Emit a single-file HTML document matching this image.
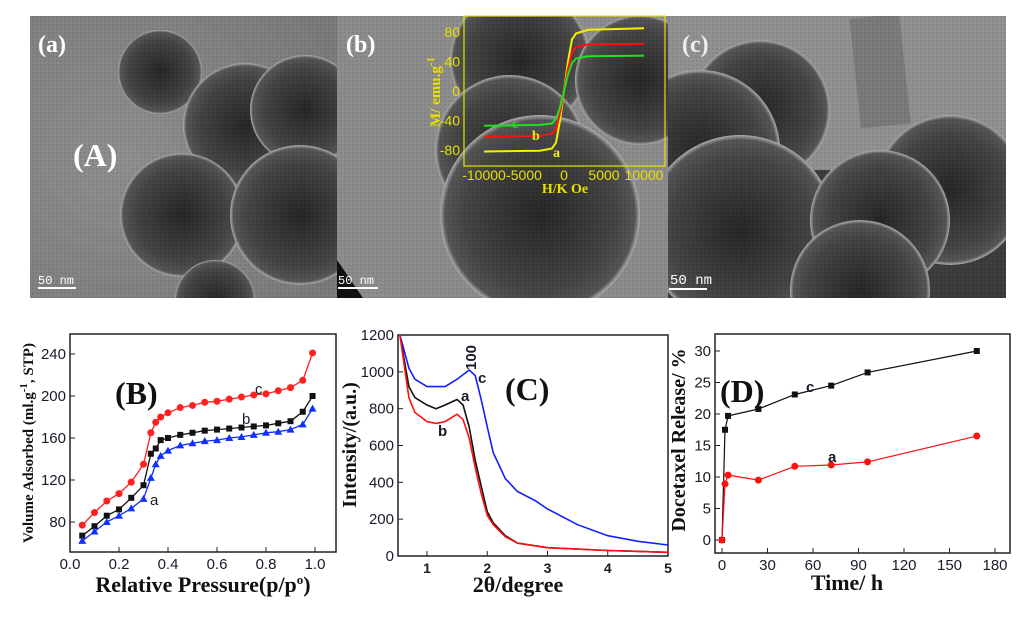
<!DOCTYPE html>
<html><head><meta charset="utf-8"><style>
html,body{margin:0;padding:0;background:#fff;width:1024px;height:618px;overflow:hidden}
svg{display:block}
.tk{font-family:"Liberation Sans",sans-serif;font-size:15px;fill:#1a1a2a}
.ttl{font-family:"Liberation Serif",serif;font-weight:bold;fill:#111}
</style></head><body>
<svg id="fig" width="1024" height="618" viewBox="0 0 1024 618">
<defs>
<radialGradient id="sph" cx="50%" cy="50%" r="50%">
<stop offset="0" stop-color="#262626"/><stop offset="0.75" stop-color="#444"/><stop offset="0.95" stop-color="#555"/><stop offset="1" stop-color="#b0b0b0"/>
</radialGradient>
<radialGradient id="bgA" cx="30%" cy="50%" r="80%"><stop offset="0" stop-color="#8e8e8e"/><stop offset="1" stop-color="#7a7a7a"/></radialGradient>
<pattern id="tex" width="4" height="4" patternUnits="userSpaceOnUse"><rect width="4" height="4" fill="none"/><circle cx="1" cy="1" r="0.9" fill="#000" opacity="0.35"/><circle cx="3" cy="3" r="0.7" fill="#fff" opacity="0.12"/></pattern>
<clipPath id="cA"><rect x="30" y="16" width="307" height="282"/></clipPath>
<clipPath id="cB"><rect x="337" y="16" width="331" height="282"/></clipPath>
<clipPath id="cC"><rect x="668" y="16" width="338" height="282"/></clipPath>
</defs>

<!-- TEM panel a -->
<g clip-path="url(#cA)">
<rect x="30" y="16" width="307" height="282" fill="url(#bgA)"/>
<circle cx="160" cy="72" r="42" fill="url(#sph)"/>
<circle cx="245" cy="125" r="62" fill="url(#sph)"/>
<circle cx="305" cy="110" r="55" fill="url(#sph)"/>
<circle cx="182" cy="215" r="62" fill="url(#sph)"/>
<circle cx="300" cy="215" r="70" fill="url(#sph)"/>
<circle cx="215" cy="300" r="40" fill="url(#sph)"/>
<rect x="30" y="16" width="307" height="282" fill="url(#tex)" opacity="0.3"/>
<text x="38" y="52" class="ttl" font-size="24" style="fill:#fff">(a)</text>
<text x="73" y="166" class="ttl" font-size="32" style="fill:#fff">(A)</text>
<text x="38" y="284" font-family="Liberation Mono,monospace" font-size="12" fill="#fff">50 nm</text>
<rect x="38" y="287" width="38" height="2" fill="#fff"/>
</g>

<!-- TEM panel b -->
<g clip-path="url(#cB)">
<rect x="337" y="16" width="331" height="282" fill="#8c8c8c"/>
<circle cx="520" cy="60" r="70" fill="url(#sph)"/>
<circle cx="640" cy="80" r="65" fill="url(#sph)"/>
<circle cx="510" cy="150" r="75" fill="url(#sph)"/>
<circle cx="540" cy="215" r="100" fill="url(#sph)"/>
<rect x="337" y="16" width="331" height="282" fill="url(#tex)" opacity="0.3"/>
<polygon points="337,260 363,298 337,298" fill="#111"/>
<text x="346" y="52" class="ttl" font-size="24" style="fill:#fff">(b)</text>
<text x="338" y="284" font-family="Liberation Mono,monospace" font-size="12" fill="#fff">50 nm</text>
<rect x="338" y="287" width="40" height="2" fill="#fff"/>
</g>

<!-- TEM panel c -->
<g clip-path="url(#cC)">
<rect x="668" y="16" width="338" height="282" fill="#909090"/>
<rect x="855" y="16" width="50" height="110" fill="#7a7a7a" transform="rotate(-6 880 70)"/>
<rect x="668" y="170" width="338" height="128" fill="#3c3c3c"/>
<circle cx="760" cy="110" r="70" fill="url(#sph)"/>
<circle cx="700" cy="150" r="80" fill="url(#sph)"/>
<circle cx="740" cy="230" r="95" fill="url(#sph)"/>
<circle cx="950" cy="190" r="75" fill="url(#sph)"/>
<circle cx="880" cy="220" r="70" fill="url(#sph)"/>
<circle cx="860" cy="290" r="70" fill="url(#sph)"/>
<rect x="668" y="16" width="338" height="282" fill="url(#tex)" opacity="0.3"/>
<text x="682" y="52" class="ttl" font-size="24" style="fill:#eee">(c)</text>
<text x="670" y="284" font-family="Liberation Mono,monospace" font-size="14" fill="#fff">50 nm</text>
<rect x="669" y="288" width="38" height="2" fill="#fff"/>
</g>

<!-- inset magnetic -->
<g id="inset">
<rect x="464" y="16" width="201" height="150" fill="none" stroke="#e8e000" stroke-width="1.2"/>
</g>

<g id="chartB"></g>
<g id="chartC"></g>
<g id="chartD"></g>
</svg>
<script>
// ---- inset data ----
const magH = [-10000,-3000,-1500,-1000,-500,0,500,1000,1500,3000,10000];
const magA = [-82,-81,-78,-70,-40,0,40,70,78,83,85];
const magB = [-62,-61,-58,-52,-30,0,30,52,60,63,64];
const magC = [-47,-46,-44,-38,-22,0,22,38,44,47,48];
const magTicksY = [80,40,0,-40,-80];
const magTicksX = [-10000,-5000,0,5000,10000];
// ---- B data ----
const pP = [0.05,0.1,0.15,0.2,0.25,0.3,0.33,0.35,0.37,0.4,0.45,0.5,0.55,0.6,0.65,0.7,0.75,0.8,0.85,0.9,0.95,0.99];
const isoC = [77,89,100,107,118,135,165,175,180,184,189,191,194,195,197,199,201,202,205,208,215,241];
const isoB = [67,76,86,92,103,115,145,150,158,160,163,165,167,168,169,170,171,172,174,176,185,200];
const isoA = [62,71,80,86,93,102,122,135,143,148,153,155,157,158,160,161,163,165,166,168,173,188];
const bTicksX = [0.0,0.2,0.4,0.6,0.8,1.0];
const bTicksY = [80,120,160,200,240];
// ---- C data ----
const xrdXC = [0.55,0.7,0.8,1.0,1.3,1.5,1.7,1.8,1.9,2.0,2.1,2.3,2.5,2.8,3.0,3.5,4.0,4.5,5.0];
const xrdC = [1200,1020,960,920,920,960,1010,980,850,700,560,420,350,300,255,170,110,80,60];
const xrdXA = [0.55,0.7,0.8,1.0,1.15,1.3,1.5,1.6,1.7,1.8,1.9,2.0,2.1,2.3,2.5,3.0,4.0,5.0];
const xrdA = [1200,920,860,820,800,820,850,820,700,520,380,240,180,110,70,45,30,20];
const xrdB = [1200,860,780,730,720,730,770,740,640,480,340,220,170,105,70,45,30,20];
const cTicksX = [1,2,3,4,5];
const cTicksY = [0,200,400,600,800,1000,1200];
// ---- D data ----
const relT = [0,2,4,24,48,72,96,168];
const relC = [0,17.5,19.7,20.8,23.1,24.5,26.6,30];
const relA = [0,8.9,10.3,9.5,11.7,11.9,12.4,16.5];
const dTicksX = [0,30,60,90,120,150,180];
const dTicksY = [0,5,10,15,20,25,30];

const NS='http://www.w3.org/2000/svg';
function mk(parent,tag,attrs,text){const e=document.createElementNS(NS,tag);for(const k in attrs)e.setAttribute(k,attrs[k]);if(text!==undefined)e.textContent=text;parent.appendChild(e);return e;}
function lin(d0,d1,r0,r1){return v=>r0+(v-d0)*(r1-r0)/(d1-d0);}
function path(xs,ys,sx,sy){return xs.map((x,i)=>(i?'L':'M')+sx(x).toFixed(1)+','+sy(ys[i]).toFixed(1)).join('');}

// inset
(function(){
const g=document.getElementById('inset');
const sx=lin(-10000,10000,484,644), sy=lin(80,-80,32,150);
[[magA,'#f4f000','a'],[magB,'#ff1010','b'],[magC,'#20e020','c']].forEach(([ys,col,n])=>{
 const p=mk(g,'path',{d:path(magH,ys,sx,sy),fill:'none',stroke:col,'stroke-width':2});
 
 
});
magTicksY.forEach(v=>{const t=mk(g,'text',{x:460,y:sy(v)+5,'text-anchor':'end',class:'tk',style:'fill:#e8e000;font-size:14px'},v);
 });
const xl=['-10000','-5000','0','5000','10000'];
magTicksX.forEach((v,i)=>{const t=mk(g,'text',{x:sx(v),y:180,'text-anchor':'middle',class:'tk',style:'fill:#e8e000;font-size:14px'},xl[i]);
 });
const xt=mk(g,'text',{x:565,y:193,'text-anchor':'middle',class:'ttl','font-size':14,style:'fill:#e8e000'},'H/K Oe');

const yt=mk(g,'text',{x:0,y:0,transform:'translate(440 92) rotate(-90)','text-anchor':'middle',class:'ttl','font-size':15,style:'fill:#e8e000'});
yt.innerHTML='M/ emu.g<tspan dy="-6" font-size="11">-1</tspan>';

[['c',512,128,'#20e020'],['b',532,140,'#f4f000'],['a',553,157,'#f4f000']].forEach(([s,x,y,c])=>{
 const t=mk(g,'text',{x,y,class:'ttl','font-size':14,style:'fill:'+c},s);});
})();

function frame(g,x0,y0,x1,y1){const r=mk(g,'rect',{x:x0,y:y0,width:x1-x0,height:y1-y0,fill:'none',stroke:'#222','stroke-width':1.5});
 }

// Chart B
(function(){
const g=document.getElementById('chartB');
const X0=70,X1=336,Y0=334,Y1=552;
const sx=lin(0,1,70,315), sy=lin(80,240,522,354);
frame(g,X0,Y0,X1,Y1);
bTicksX.forEach(v=>{mk(g,'line',{x1:sx(v),x2:sx(v),y1:Y1,y2:Y1-5,stroke:'#222'});
 const t=mk(g,'text',{x:sx(v),y:Y1+17,'text-anchor':'middle',class:'tk'},v.toFixed(1));});
bTicksY.forEach(v=>{mk(g,'line',{x1:X0,x2:X0+5,y1:sy(v),y2:sy(v),stroke:'#222'});
 const t=mk(g,'text',{x:X0-4,y:sy(v)+5,'text-anchor':'end',class:'tk'},v);});
[[isoC,'#ff2020','c','circle'],[isoB,'#111','b','square'],[isoA,'#1030ff','a','tri']].forEach(([ys,col,n,m])=>{
 const p=mk(g,'path',{d:path(pP,ys,sx,sy),fill:'none',stroke:col,'stroke-width':1.3});
 
 pP.forEach((x,i)=>{const cx=sx(x),cy=sy(ys[i]);let e;
  if(m==='circle')e=mk(g,'circle',{cx,cy,r:3.5,fill:col});
  else if(m==='square')e=mk(g,'rect',{x:cx-3,y:cy-3,width:6,height:6,fill:col});
  else e=mk(g,'polygon',{points:`${cx},${cy-4} ${cx-4},${cy+3} ${cx+4},${cy+3}`,fill:col});
  });
});
[['c',255,394],['b',242,424],['a',150,505]].forEach(([s,x,y])=>{const t=mk(g,'text',{x,y,class:'tk','font-size':16},s);});
const pl=mk(g,'text',{x:115,y:404,class:'ttl','font-size':32},'(B)');
const xt=mk(g,'text',{x:203,y:592,'text-anchor':'middle',class:'ttl','font-size':22});
xt.innerHTML='Relative Pressure(p/p<tspan dy="-8" font-size="13">o</tspan><tspan dy="8">)</tspan>';

const yt=mk(g,'text',{transform:'translate(33 443) rotate(-90)','text-anchor':'middle',class:'ttl','font-size':15});
yt.innerHTML='Volume Adsorbed (ml.g<tspan dy="-6" font-size="11">-1</tspan><tspan dy="6">, STP)</tspan>';

})();

// Chart C
(function(){
const g=document.getElementById('chartC');
const X0=398,X1=668,Y0=335,Y1=556;
const sx=lin(1,5,427,668), sy=lin(0,1200,556,335);
frame(g,X0,Y0,X1,Y1);
cTicksX.forEach(v=>{mk(g,'line',{x1:sx(v),x2:sx(v),y1:Y1,y2:Y1-5,stroke:'#222'});
 const t=mk(g,'text',{x:sx(v),y:Y1+17,'text-anchor':'middle',class:'tk',style:'font-weight:bold;font-size:14px'},v);});
cTicksY.forEach(v=>{mk(g,'line',{x1:X0,x2:X0+5,y1:sy(v),y2:sy(v),stroke:'#222'});
 const t=mk(g,'text',{x:X0-4,y:sy(v)+5,'text-anchor':'end',class:'tk'},v);});
[[xrdXC,xrdC,'#1020ff','c'],[xrdXA,xrdA,'#111','a'],[xrdXA,xrdB,'#ff1010','b']].forEach(([xs,ys,col,n])=>{
 const p=mk(g,'path',{d:path(xs,ys,sx,sy),fill:'none',stroke:col,'stroke-width':1.6});
 });
[['c',478,383],['a',461,401],['b',438,436]].forEach(([s,x,y])=>{const t=mk(g,'text',{x,y,class:'tk','font-size':16,style:'font-weight:bold'},s);});
const h=mk(g,'text',{transform:'translate(476 370) rotate(-90)',class:'tk','font-size':15,style:'font-weight:bold'},'100');
const pl=mk(g,'text',{x:505,y:400,class:'ttl','font-size':32},'(C)');
const xt=mk(g,'text',{x:518,y:592,'text-anchor':'middle',class:'ttl','font-size':22},'2θ/degree');
const yt=mk(g,'text',{transform:'translate(356 445) rotate(-90)','text-anchor':'middle',class:'ttl','font-size':20},'Intensity/(a.u.)');
})();

// Chart D
(function(){
const g=document.getElementById('chartD');
const X0=715,X1=1010,Y0=334,Y1=553;
const sx=lin(0,180,722,995), sy=lin(0,30,540,351);
frame(g,X0,Y0,X1,Y1);
dTicksX.forEach(v=>{mk(g,'line',{x1:sx(v),x2:sx(v),y1:Y1,y2:Y1-5,stroke:'#222'});
 const t=mk(g,'text',{x:sx(v),y:Y1+17,'text-anchor':'middle',class:'tk'},v);});
dTicksY.forEach(v=>{mk(g,'line',{x1:X0,x2:X0+5,y1:sy(v),y2:sy(v),stroke:'#222'});
 const t=mk(g,'text',{x:X0-4,y:sy(v)+5,'text-anchor':'end',class:'tk'},v);});
[[relC,'#111','c','square'],[relA,'#ff1010','a','circle']].forEach(([ys,col,n,m])=>{
 const p=mk(g,'path',{d:path(relT,ys,sx,sy),fill:'none',stroke:col,'stroke-width':1.2});
 
 relT.forEach((x,i)=>{const cx=sx(x),cy=sy(ys[i]);let e;
  if(m==='square')e=mk(g,'rect',{x:cx-3,y:cy-3,width:6,height:6,fill:col});
  else e=mk(g,'circle',{cx,cy,r:3.5,fill:col});
  });
});
[['c',806,392],['a',828,462]].forEach(([s,x,y])=>{const t=mk(g,'text',{x,y,class:'tk','font-size':17,style:'font-weight:bold'},s);});
const pl=mk(g,'text',{x:720,y:402,class:'ttl','font-size':32},'(D)');
const xt=mk(g,'text',{x:847,y:590,'text-anchor':'middle',class:'ttl','font-size':22},'Time/ h');
const yt=mk(g,'text',{transform:'translate(685 440) rotate(-90)','text-anchor':'middle',class:'ttl','font-size':20},'Docetaxel Release/ %');
})();
</script>
</body></html>
